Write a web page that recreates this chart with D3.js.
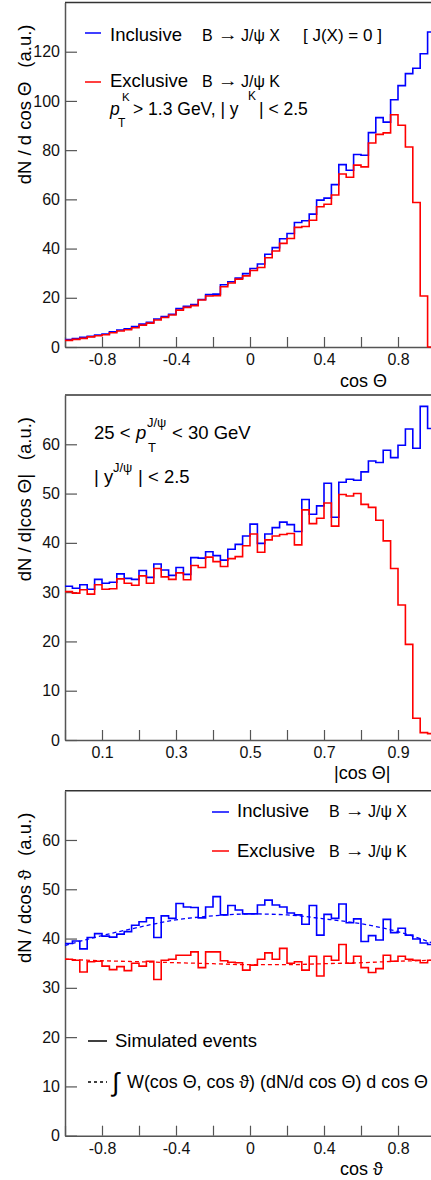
<!DOCTYPE html>
<html><head><meta charset="utf-8">
<script src="https://cdn.jsdelivr.net/npm/d3@7"></script>
<style>
html,body{margin:0;padding:0;background:#fff;}
svg{display:block;font-family:"Liberation Sans",Arial,Helvetica,sans-serif;}
text{white-space:pre;}
</style></head><body>
<svg id="chart" width="431" height="1180"></svg>
<script>
// ---- Panel 1: dN/dcosΘ, 50 bins on [-1, 1]
const cosThetaRange = [-1, 1];
const inclusiveCosTheta = [3.0,3.4,3.9,4.3,4.9,5.3,6.2,6.9,7.4,8.3,9.3,10.0,11.4,12.4,13.3,15.6,16.5,17.3,19.3,21.3,
  21.5,25.3,26.5,28.0,29.8,31.9,33.7,37.7,40.4,44.0,46.1,50.6,51.3,54.0,59.7,60.5,66.0,74.1,71.8,78.2,
  77.9,87.1,93.2,91.4,100.5,106.2,111.1,113.3,119.2,128.0];
const exclusiveCosTheta = [2.7,3.1,3.5,4.1,4.6,5.0,5.8,6.5,7.0,7.8,8.9,9.7,11.0,12.0,13.0,15.0,16.1,16.8,19.1,20.7,
  20.8,24.5,26.0,27.6,28.9,31.1,32.3,36.3,39.0,42.1,44.1,48.6,49.0,51.5,57.0,58.0,61.8,70.3,69.0,73.9,
  73.2,82.9,86.4,87.0,94.4,90.1,81.3,58.7,20.7,0];

// ---- Panel 2: dN/d|cosΘ|, 50 bins on [0, 1]
const absCosThetaRange = [0, 1];
const inclusiveAbsCosTheta = [31.2,30.8,31.5,30.6,32.6,31.8,32.0,33.7,32.8,32.6,34.4,33.0,35.7,34.5,33.4,35.0,33.6,37.0,36.9,38.2,
  37.4,36.5,38.7,39.7,41.4,43.8,39.9,41.8,43.1,44.2,43.7,42.3,48.8,45.8,47.5,52.1,45.2,52.3,52.9,52.7,
  54.4,56.6,56.3,58.8,57.3,59.8,63.1,59.2,67.7,63.2];
const exclusiveAbsCosTheta = [30.1,29.8,30.5,29.6,31.5,30.6,30.7,32.7,31.8,31.4,33.3,31.8,34.8,33.1,32.6,33.9,32.5,35.4,35.0,37.1,
  36.2,35.2,36.8,37.2,39.4,41.8,38.1,40.6,41.4,41.7,41.9,39.6,46.7,43.9,45.0,48.1,43.4,49.8,49.5,50.0,
  47.8,47.2,44.6,40.4,34.8,27.4,19.4,4.4,1.5,1.3];

// ---- Panel 3: dN/dcosϑ, 50 bins on [-1, 1], plus folded-weight predictions
const cosVarthetaRange = [-1, 1];
const inclusiveCosVartheta = [39.0,39.5,37.9,40.2,41.0,40.5,40.3,40.9,41.4,42.7,43.4,44.2,40.2,44.6,44.1,47.1,46.4,46.3,44.2,46.4,
  48.5,44.8,46.7,45.8,45.0,45.0,46.8,47.8,46.8,46.4,45.2,44.8,42.9,46.7,40.7,44.9,44.1,47.0,43.2,44.0,
  39.4,40.6,39.7,43.9,41.2,42.1,40.7,39.9,39.1,38.8];
const exclusiveCosVartheta = [35.8,35.6,33.2,35.3,35.4,34.4,33.7,34.3,33.5,35.0,34.4,35.4,31.7,35.6,35.8,36.6,36.6,37.3,34.1,37.3,
  37.3,35.5,35.2,35.1,33.6,34.6,35.8,37.1,35.8,38.0,35.0,35.3,33.6,36.4,32.4,36.4,35.6,38.8,35.0,36.4,
  34.1,33.1,33.9,36.6,35.4,36.4,35.8,35.6,35.1,35.6];
const predictionX = [-1,-0.8,-0.6,-0.4,-0.2,0,0.2,0.4,0.6,0.8,1];
const predictionInclusive = [38.6,40.6,42.3,43.8,44.6,45.0,44.8,44.0,43.0,41.4,38.9];
const predictionExclusive = [35.8,35.5,35.3,35.1,34.9,34.7,34.7,34.9,35.1,35.4,35.6];

// ---- Tick labels
const xLabelsSigned = ["-0.8","-0.4","0","0.4","0.8"];
const xLabelsAbs = ["0.1","0.3","0.5","0.7","0.9"];
const yLabelsP1 = ["0","20","40","60","80","100","120"];
const yLabelsP2 = ["0","10","20","30","40","50","60"];
const yLabelsP3 = ["0","10","20","30","40","50","60"];

const BLUE = "#0000ff", RED = "#ff0000", AXIS = "#555";
const svg = d3.select("#chart");

function seq(a, b, step) {
  const n = Math.round((b - a) / step);
  return d3.range(n + 1).map(i => +(a + i * step).toFixed(6));
}

function stepPath(x, y, range, values) {
  const w = (range[1] - range[0]) / values.length;
  const pts = values.map((v, i) => [range[0] + i * w, v]);
  pts.push([range[1], values[values.length - 1]]);
  return d3.line().x(d => x(d[0])).y(d => y(d[1])).curve(d3.curveStepAfter)(pts);
}

function panel(cfg) {
  const x = d3.scaleLinear(cfg.xDomain, [65, 435]);
  const y = d3.scaleLinear(cfg.yDomain, cfg.yRange);
  const g = svg.append("g");
  const bottom = cfg.yRange[0], top = cfg.yRange[1];

  // top frame
  g.append("line").attr("x1", 65).attr("x2", 435).attr("y1", top).attr("y2", top)
    .attr("stroke", "#333").attr("stroke-width", 1.5);

  const labVals = cfg.xLabels.map(Number);
  const fmtX = d => { const k = labVals.findIndex(v => Math.abs(v - d) < 1e-6); return k >= 0 ? cfg.xLabels[k] : ""; };
  const xa = g.append("g").attr("transform", `translate(0,${bottom})`);
  xa.call(d3.axisBottom(x).tickValues(cfg.xMinor).tickSize(-5).tickFormat("").tickSizeOuter(0));
  xa.call(d3.axisBottom(x).tickValues(cfg.xMajor).tickSize(-10).tickPadding(7).tickFormat(fmtX).tickSizeOuter(0));

  const yLab = cfg.yLabels.map(Number);
  const ya = g.append("g").attr("transform", "translate(65,0)");
  ya.call(d3.axisLeft(y).tickValues(cfg.yMinor).tickSize(-6).tickFormat("").tickSizeOuter(0));
  ya.call(d3.axisLeft(y).tickValues(yLab).tickSize(-12).tickPadding(5)
    .tickFormat((d, i) => cfg.yLabels[i]).tickSizeOuter(0));

  g.selectAll(".domain").attr("stroke", AXIS).attr("stroke-width", 1.5);
  g.selectAll(".tick line").attr("stroke", AXIS).attr("stroke-width", 1.2);
  g.selectAll(".tick text").attr("fill", "#111").style("font-size", "16px")
    .style("font-family", '"Liberation Sans",Arial,sans-serif');

  // predictions (dashed)
  (cfg.curves || []).forEach(c => {
    g.append("path").attr("d", d3.line().x((d, i) => x(predictionX[i])).y(d => y(d)).curve(d3.curveMonotoneX)(c.values))
      .attr("fill", "none").attr("stroke", c.color).attr("stroke-width", 1.3).attr("stroke-dasharray", "4,3");
  });

  cfg.series.forEach(s => {
    g.append("path").attr("d", stepPath(x, y, cfg.xDomain, s.values))
      .attr("fill", "none").attr("stroke", s.color).attr("stroke-width", 1.6);
  });

  // axis titles
  g.append("text").attr("x", cfg.xTitlePos[0]).attr("y", cfg.xTitlePos[1]).style("font-size", "18px").text(cfg.xTitle);
  const yt = g.append("g").attr("transform", `translate(31,${top + 22}) rotate(-90)`);
  yt.append("text").attr("text-anchor", "end").style("font-size", "18.5px").text("(a.u.)");
  yt.append("text").attr("x", -57).attr("text-anchor", "end").style("font-size", "18.5px").text(cfg.yTitle);
  return { g, x, y };
}

panel({
  xDomain: cosThetaRange, yDomain: [0, 140], yRange: [347, 2.5],
  xMajor: seq(-1, 1, 0.2), xMinor: seq(-1, 1, 0.05), xLabels: xLabelsSigned,
  yLabels: yLabelsP1, yMinor: seq(0, 140, 5),
  series: [{ values: inclusiveCosTheta, color: BLUE }, { values: exclusiveCosTheta, color: RED }],
  xTitle: "cos Θ", xTitlePos: [340, 387], yTitle: "dN / d cos Θ"
});
panel({
  xDomain: absCosThetaRange, yDomain: [0, 70], yRange: [740, 395],
  xMajor: seq(0, 1, 0.1), xMinor: seq(0, 1, 0.025), xLabels: xLabelsAbs,
  yLabels: yLabelsP2, yMinor: seq(0, 70, 2),
  series: [{ values: inclusiveAbsCosTheta, color: BLUE }, { values: exclusiveAbsCosTheta, color: RED }],
  xTitle: "|cos Θ|", xTitlePos: [334, 779], yTitle: "dN / d|cos Θ|"
});
panel({
  xDomain: cosVarthetaRange, yDomain: [0, 70], yRange: [1135.7, 790.7],
  xMajor: seq(-1, 1, 0.2), xMinor: seq(-1, 1, 0.05), xLabels: xLabelsSigned,
  yLabels: yLabelsP3, yMinor: seq(0, 70, 2),
  series: [{ values: inclusiveCosVartheta, color: BLUE }, { values: exclusiveCosVartheta, color: RED }],
  curves: [{ values: predictionInclusive, color: BLUE }, { values: predictionExclusive, color: RED }],
  xTitle: "cos ϑ", xTitlePos: [340, 1175], yTitle: "dN / dcos ϑ"
});

// ---- annotations
function txt(x, y, s, size, opts = {}) {
  const t = svg.append("text").attr("x", x).attr("y", y).style("font-size", size + "px").text(s);
  if (opts.italic) t.style("font-style", "italic");
  if (opts.len) t.attr("textLength", opts.len).attr("lengthAdjust", "spacingAndGlyphs");
  return t;
}
function legLine(x1, x2, y, color, dash) {
  const l = svg.append("line").attr("x1", x1).attr("x2", x2).attr("y1", y).attr("y2", y)
    .attr("stroke", color).attr("stroke-width", 1.5);
  if (dash) l.attr("stroke-dasharray", dash);
}
function decay(x, y, fin, size) {
  txt(x, y, "B", size);
  txt(x + 16, y - 1, "→", size, { len: 20 });
  txt(x + 39, y, "J/ψ " + fin, size);
}

// panel 1 legend
legLine(85, 101, 33, BLUE);
txt(110, 40.5, "Inclusive", 18.5);
decay(202, 40.5, "X", 16);
txt(303, 40.5, "[ J(X) = 0 ]", 17);
legLine(85, 101, 82, RED);
txt(110, 87, "Exclusive", 18.5);
decay(202, 87, "K", 16);
txt(110, 115, "p", 17.5, { italic: true });
txt(122, 100.5, "K", 11.5);
txt(118, 127, "T", 12);
txt(133, 115, "> 1.3 GeV, | y", 17.5);
txt(248, 100, "K", 12);
txt(259, 115, "| < 2.5", 17.5);

// panel 2 kinematic range
txt(94, 439, "25 <", 18.5);
txt(136, 439, "p", 18.5, { italic: true });
txt(147, 427, "J/ψ", 13);
txt(148, 452, "T", 13);
txt(172, 439, "< 30 GeV", 18.5);
txt(94, 483, "| y", 18.5);
txt(113, 472, "J/ψ", 13);
txt(138, 483, "| < 2.5", 18.5);

// panel 3 legend
legLine(212, 229, 812, BLUE);
txt(237, 817, "Inclusive", 18.5);
decay(329, 817, "X", 16);
legLine(212, 229, 851, RED);
txt(237, 857, "Exclusive", 18.5);
decay(329, 857, "K", 16);

legLine(88, 107, 1041, "#000");
txt(115, 1047, "Simulated events", 18.5);
legLine(88, 107, 1082, "#000", "3,3");
txt(112, 1091, "∫", 26);
txt(127, 1088, "W(cos Θ, cos ϑ) (dN/d cos Θ) d cos Θ", 18, { len: 301 });
</script>
</body></html>
